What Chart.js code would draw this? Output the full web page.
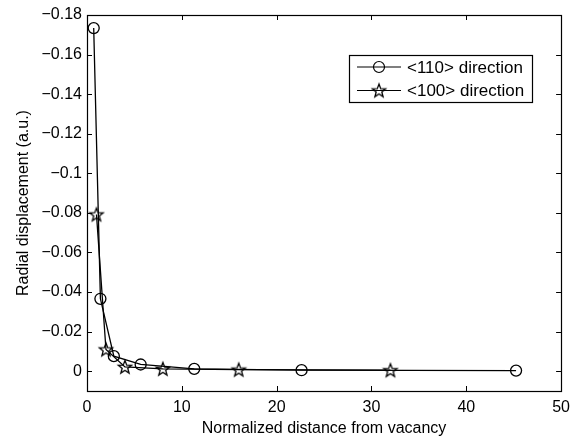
<!DOCTYPE html>
<html>
<head>
<meta charset="utf-8">
<script src="https://cdn.jsdelivr.net/npm/chart.js@4/dist/chart.umd.min.js"></script>
<style>
  html, body { margin: 0; padding: 0; background: #fff; }
  #wrap { width: 577px; height: 438px; }
</style>
</head>
<body>
<div id="wrap"><canvas id="chart" width="577" height="438"></canvas></div>
<script>
// data
const dist110 = [0.707, 1.414, 2.83, 5.66, 11.31, 22.63, 45.25];
const disp110 = [-0.1734, -0.0366, -0.0076, -0.0034, -0.0012, -0.0005, -0.0003];
const dist100 = [1, 2, 4, 8, 16, 32];
const disp100 = [-0.0792, -0.011, -0.0022, -0.0012, -0.0008, -0.0005];
const xTicks = [0, 10, 20, 30, 40, 50];
const yTicks = [-0.18, -0.16, -0.14, -0.12, -0.1, -0.08, -0.06, -0.04, -0.02, 0];

const FONT = "'Liberation Sans', Arial, sans-serif";

// outline pentagram like matlab's 'p' marker
function makeStar(r) {
    const size = r * 2 + 4;
    const c = document.createElement("canvas");
    c.width = size; c.height = size;
    const g = c.getContext("2d");
    const cx = size / 2, cy = size / 2 + 0.5;
    g.beginPath();
    for (let i = 0; i < 10; i++) {
        const rad = i % 2 === 0 ? r : r * 0.42;
        const a = -Math.PI / 2 + i * Math.PI / 5;
        const px = cx + rad * Math.cos(a), py = cy + rad * Math.sin(a);
        if (i === 0) g.moveTo(px, py); else g.lineTo(px, py);
    }
    g.closePath();
    g.strokeStyle = "#000";
    g.lineWidth = 1.3;
    g.stroke();
    return c;
}
const starImg = makeStar(7);

function fmt(v) {
    if (v === 0) return "0";
    return (v < 0 ? "\u2212" : "") + String(Math.abs(v));
}

// box, inward ticks and the legend
const boxPlugin = {
    id: "box",
    afterDraw(chart) {
        const ctx = chart.ctx;
        const a = chart.chartArea;
        const xs = chart.scales.x, ys = chart.scales.y;
        ctx.save();
        ctx.strokeStyle = "#000";
        ctx.lineWidth = 1;
        ctx.beginPath();
        xTicks.forEach(v => {
            const px = Math.round(xs.getPixelForValue(v)) + 0.5;
            ctx.moveTo(px, a.bottom); ctx.lineTo(px, a.bottom - 5);
            ctx.moveTo(px, a.top); ctx.lineTo(px, a.top + 5);
        });
        yTicks.forEach(v => {
            const py = Math.round(ys.getPixelForValue(v)) + 0.5;
            ctx.moveTo(a.left, py); ctx.lineTo(a.left + 5, py);
            ctx.moveTo(a.right, py); ctx.lineTo(a.right - 5, py);
        });
        ctx.stroke();
        ctx.lineWidth = 1.2;
        ctx.strokeRect(Math.round(a.left) + 0.5, Math.round(a.top) + 0.5,
            Math.round(a.right - a.left), Math.round(a.bottom - a.top));

        // legend
        const lx = 349.5, ly = 55.5, lw = 183, lh = 47;
        ctx.lineWidth = 1.2;
        ctx.fillStyle = "#fff";
        ctx.fillRect(lx, ly, lw, lh);
        ctx.strokeRect(lx, ly, lw, lh);
        ctx.font = "17px " + FONT;
        ctx.textBaseline = "middle";
        ctx.fillStyle = "#000";
        chart.data.datasets.forEach((ds, i) => {
            const y = 67 + i * 23.5;
            ctx.beginPath();
            ctx.moveTo(357, y); ctx.lineTo(401, y);
            ctx.stroke();
            if (i === 0) {
                ctx.beginPath();
                ctx.arc(379, y, 5.5, 0, Math.PI * 2);
                ctx.stroke();
            } else {
                ctx.drawImage(starImg, 379 - starImg.width / 2, y - starImg.height / 2);
            }
            ctx.fillText(ds.label, 407, y + 1);
        });
        ctx.restore();
    }
};

new Chart(document.getElementById("chart"), {
    type: "line",
    data: {
        datasets: [
            {
                label: "<110> direction",
                data: dist110.map((x, i) => ({ x: x, y: disp110[i] })),
                borderColor: "#000",
                borderWidth: 1.3,
                pointStyle: "circle",
                pointRadius: 5.5,
                pointBorderWidth: 1.3,
                pointBorderColor: "#000",
                pointBackgroundColor: "rgba(0,0,0,0)",
                tension: 0
            },
            {
                label: "<100> direction",
                data: dist100.map((x, i) => ({ x: x, y: disp100[i] })),
                borderColor: "#000",
                borderWidth: 1.3,
                pointStyle: starImg,
                pointRadius: 7,
                pointBorderColor: "#000",
                pointBackgroundColor: "rgba(0,0,0,0)",
                tension: 0
            }
        ]
    },
    options: {
        responsive: false,
        animation: false,
        layout: { padding: { top: 15, right: 13, left: 0, bottom: 0 } },
        plugins: { legend: { display: false }, tooltip: { enabled: false } },
        scales: {
            x: {
                type: "linear",
                min: 0, max: 50,
                afterBuildTicks: s => { s.ticks = xTicks.map(v => ({ value: v })); },
                afterFit: s => { s.height = 47; },
                grid: { display: false, drawTicks: false },
                border: { display: false },
                ticks: { color: "#000", padding: 7, font: { family: FONT, size: 16 }, callback: v => String(v) },
                title: { display: true, text: "Normalized distance from vacancy", color: "#000",
                         font: { family: FONT, size: 16 }, padding: { top: 1, bottom: 0 } }
            },
            y: {
                type: "linear",
                reverse: true,
                min: -0.18, max: 0.01,
                afterBuildTicks: s => { s.ticks = yTicks.map(v => ({ value: v })); },
                afterFit: s => { s.width = 87; },
                grid: { display: false, drawTicks: false },
                border: { display: false },
                ticks: { color: "#000", padding: 5, font: { family: FONT, size: 16 }, callback: v => fmt(v) },
                title: { display: true, text: "Radial displacement (a.u.)", color: "#000",
                         font: { family: FONT, size: 16 }, padding: { top: 14, bottom: 0 } }
            }
        }
    },
    plugins: [boxPlugin]
});
</script>
</body>
</html>
